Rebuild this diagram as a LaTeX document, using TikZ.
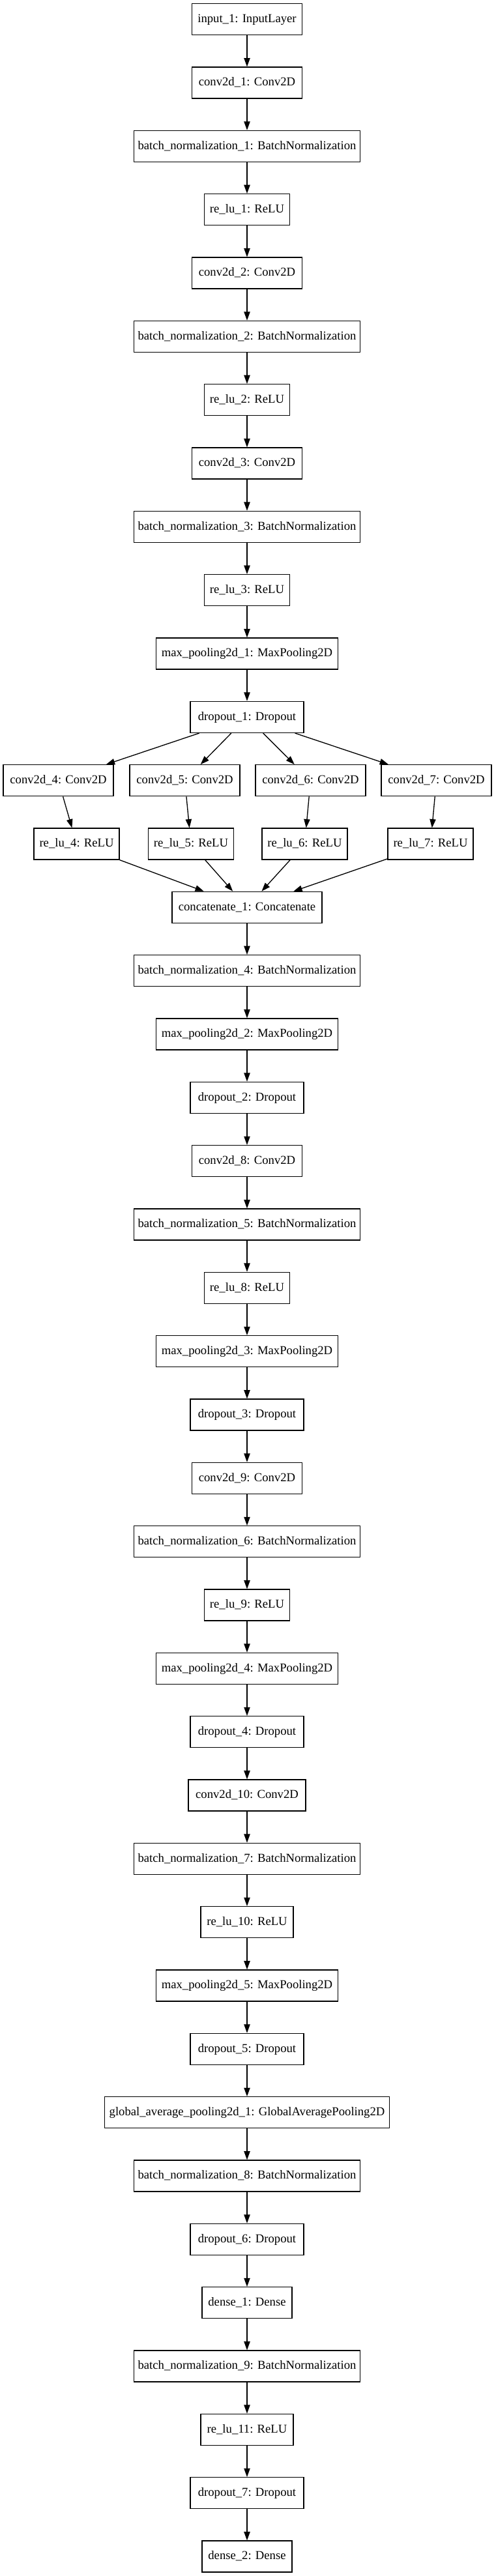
\documentclass[tikz,border=0pt]{standalone}
\usepackage{fontspec}
\setmainfont{Liberation Serif}
\usetikzlibrary{arrows.meta, positioning, calc}

\begin{document}
\begin{tikzpicture}[
        every node/.style={draw, line width=1pt, minimum height=36pt,
            inner xsep=3pt, inner ysep=0pt, text height=10pt, text depth=3pt,
            font=\fontsize{14}{16}\selectfont, text centered},
        inbox/.style={minimum width=126.75pt},
        convbox/.style={minimum width=126.75pt},
        normbox/.style={minimum width=260.25pt},
        relubox/.style={minimum width=98.25pt},
        poolbox/.style={minimum width=209.25pt},
        dropbox/.style={minimum width=130.5pt},
        catbox/.style={minimum width=172.5pt},
        gapbox/.style={minimum width=327.75pt},
        densebox/.style={minimum width=103.5pt},
        flow/.style={draw, line width=1pt, ->, >={Triangle[length=10pt, width=7pt]}},
        node distance=36pt,
    ]
    \useasboundingbox (0,0) rectangle (570pt,-2964.75pt);

    % first stem
    \node[inbox] (inp) at (284.25pt,-22.3pt) {input\_1: InputLayer};
    \node[convbox, below=of inp] (c1) {conv2d\_1: Conv2D};
    \node[normbox, below=of c1] (bn1) {batch\_normalization\_1: BatchNormalization};
    \node[relubox, below=of bn1] (r1) {re\_lu\_1: ReLU};
    \node[convbox, below=of r1] (c2) {conv2d\_2: Conv2D};
    \node[normbox, below=of c2] (bn2) {batch\_normalization\_2: BatchNormalization};
    \node[relubox, below=of bn2] (r2) {re\_lu\_2: ReLU};
    \node[convbox, below=of r2] (c3) {conv2d\_3: Conv2D};
    \node[normbox, below=of c3] (bn3) {batch\_normalization\_3: BatchNormalization};
    \node[relubox, below=of bn3] (r3) {re\_lu\_3: ReLU};
    \node[poolbox, below=of r3] (mp1) {max\_pooling2d\_1: MaxPooling2D};
    \node[dropbox, below=of mp1] (d1) {dropout\_1: Dropout};

    % four parallel branches
    \node[convbox, below=of d1, xshift=-217.1pt] (c4) {conv2d\_4: Conv2D};
    \node[convbox, below=of d1, xshift=-71.6pt] (c5) {conv2d\_5: Conv2D};
    \node[convbox, below=of d1, xshift=73.1pt] (c6) {conv2d\_6: Conv2D};
    \node[convbox, below=of d1, xshift=217.9pt] (c7) {conv2d\_7: Conv2D};
    \node[relubox, below=of c4, xshift=21pt] (r4) {re\_lu\_4: ReLU};
    \node[relubox, below=of c5, xshift=7.1pt] (r5) {re\_lu\_5: ReLU};
    \node[relubox, below=of c6, xshift=-6.75pt] (r6) {re\_lu\_6: ReLU};
    \node[relubox, below=of c7, xshift=-6.75pt] (r7) {re\_lu\_7: ReLU};
    \node[catbox] (cat1) at ($(d1)+(0,-219pt)$) {concatenate\_1: Concatenate};

    % rest of the stem
    \node[normbox, below=of cat1] (bn4) {batch\_normalization\_4: BatchNormalization};
    \node[poolbox, below=of bn4] (mp2) {max\_pooling2d\_2: MaxPooling2D};
    \node[dropbox, below=of mp2] (d2) {dropout\_2: Dropout};
    \node[convbox, below=of d2] (c8) {conv2d\_8: Conv2D};
    \node[normbox, below=of c8] (bn5) {batch\_normalization\_5: BatchNormalization};
    \node[relubox, below=of bn5] (r8) {re\_lu\_8: ReLU};
    \node[poolbox, below=of r8] (mp3) {max\_pooling2d\_3: MaxPooling2D};
    \node[dropbox, below=of mp3] (d3) {dropout\_3: Dropout};
    \node[convbox, below=of d3] (c9) {conv2d\_9: Conv2D};
    \node[normbox, below=of c9] (bn6) {batch\_normalization\_6: BatchNormalization};
    \node[relubox, below=of bn6] (r9) {re\_lu\_9: ReLU};
    \node[poolbox, below=of r9] (mp4) {max\_pooling2d\_4: MaxPooling2D};
    \node[dropbox, below=of mp4] (d4) {dropout\_4: Dropout};
    \node[convbox, minimum width=135pt, below=of d4] (c10) {conv2d\_10: Conv2D};
    \node[normbox, below=of c10] (bn7) {batch\_normalization\_7: BatchNormalization};
    \node[relubox, minimum width=106.5pt, below=of bn7] (r10) {re\_lu\_10: ReLU};
    \node[poolbox, below=of r10] (mp5) {max\_pooling2d\_5: MaxPooling2D};
    \node[dropbox, below=of mp5] (d5) {dropout\_5: Dropout};
    \node[gapbox, below=of d5] (gap1) {global\_average\_pooling2d\_1: GlobalAveragePooling2D};
    \node[normbox, below=of gap1] (bn8) {batch\_normalization\_8: BatchNormalization};
    \node[dropbox, below=of bn8] (d6) {dropout\_6: Dropout};
    \node[densebox, below=of d6] (fc1) {dense\_1: Dense};
    \node[normbox, below=of fc1] (bn9) {batch\_normalization\_9: BatchNormalization};
    \node[relubox, minimum width=106.5pt, below=of bn9] (r11) {re\_lu\_11: ReLU};
    \node[dropbox, below=of r11] (d7) {dropout\_7: Dropout};
    \node[densebox, below=of d7] (fc2) {dense\_2: Dense};

    % connectors
    \foreach \a/\b in {inp/c1, c1/bn1, bn1/r1, r1/c2, c2/bn2, bn2/r2, r2/c3,
            c3/bn3, bn3/r3, r3/mp1, mp1/d1,
            d1/c4, d1/c5, d1/c6, d1/c7, c4/r4, c5/r5, c6/r6, c7/r7,
            r4/cat1, r5/cat1, r6/cat1, r7/cat1,
            cat1/bn4, bn4/mp2, mp2/d2, d2/c8, c8/bn5, bn5/r8, r8/mp3, mp3/d3,
            d3/c9, c9/bn6, bn6/r9, r9/mp4, mp4/d4, d4/c10, c10/bn7, bn7/r10,
            r10/mp5, mp5/d5, d5/gap1, gap1/bn8, bn8/d6, d6/fc1, fc1/bn9,
            bn9/r11, r11/d7, d7/fc2}
        \draw[flow] (\a) -- (\b);
\end{tikzpicture}
\end{document}
